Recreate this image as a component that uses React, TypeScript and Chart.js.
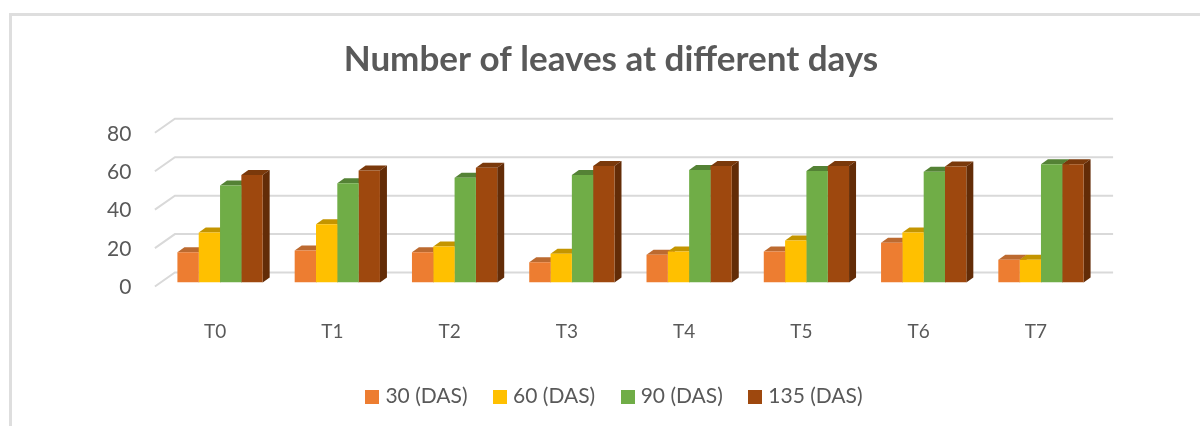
import React, { useEffect, useRef } from "react";
import { Chart, registerables } from "chart.js";

Chart.register(...registerables);

const categories = ["T0", "T1", "T2", "T3", "T4", "T5", "T6", "T7"];
const das30 = [15.8, 16.7, 15.8, 10.6, 14.5, 16.2, 20.7, 11.8];
const das60 = [26, 30.3, 18.8, 15, 16.2, 21.9, 26, 11.8];
const das90 = [50.5, 51.7, 54.5, 55.9, 58.5, 58, 57.6, 61.5];
const das135 = [56, 58.3, 59.7, 60.6, 60.6, 60.6, 60.4, 61.5];
const yTicks = [0, 20, 40, 60, 80];

const FONT = "Lato, 'Open Sans', sans-serif";
const DEPTH_X = 7;
const DEPTH_Y = 5;
const frontColors = ["#ED7D31", "#FFC000", "#70AD47", "#9E480E"];
const topColors = ["#BC6A30", "#C49500", "#548235", "#7A390B"];
const sideColors = ["#A85A24", "#A88000", "#466E2C", "#632C07"];

const poly = (ctx: CanvasRenderingContext2D, pts: number[][], fill: string) => {
  ctx.beginPath();
  pts.forEach(([x, y], i) => (i ? ctx.lineTo(x, y) : ctx.moveTo(x, y)));
  ctx.closePath();
  ctx.fillStyle = fill;
  ctx.fill();
};

const swatch = (color: string) => {
  const c = document.createElement("canvas");
  c.width = 14;
  c.height = 14;
  const g = c.getContext("2d") as CanvasRenderingContext2D;
  g.fillStyle = color;
  g.fillRect(0, 0, 14, 14);
  return c;
};

const framePlugin = {
  id: "frameAndWalls",
  afterLayout(chart: any) {
    chart.legend.left += 5.25;
    chart.legend.right += 5.25;
  },
  beforeDraw(chart: any) {
    const { ctx, scales } = chart;
    const y = scales.y;
    const area = chart.chartArea;
    ctx.save();
    ctx.strokeStyle = "#DEDEDE";
    ctx.lineWidth = 3;
    ctx.beginPath();
    ctx.moveTo(10.5, 426);
    ctx.lineTo(10.5, 14.5);
    ctx.lineTo(1200, 14.5);
    ctx.stroke();
    ctx.strokeStyle = "#D9D9D9";
    ctx.lineWidth = 2;
    yTicks.forEach((t) => {
      const p = y.getPixelForValue(t);
      ctx.beginPath();
      ctx.moveTo(area.left - 6.5, p + 4);
      ctx.lineTo(area.left + 13.5, p - 10);
      ctx.lineTo(area.right + 13.5, p - 10);
      ctx.stroke();
    });
    ctx.restore();
  },
  beforeDatasetsDraw(chart: any) {
    const { ctx } = chart;
    chart.data.datasets.forEach((_: any, di: number) => {
      chart.getDatasetMeta(di).data.forEach((bar: any) => {
        const half = bar.width / 2;
        const l = bar.x - half;
        const r = bar.x + half;
        const t = bar.y;
        const b = bar.base;
        poly(ctx, [[l, t], [l + DEPTH_X, t - DEPTH_Y], [r + DEPTH_X, t - DEPTH_Y], [r, t]], topColors[di]);
        poly(ctx, [[r, t], [r + DEPTH_X, t - DEPTH_Y], [r + DEPTH_X, b - DEPTH_Y], [r, b]], sideColors[di]);
      });
    });
  },
};

export default function App() {
  const ref = useRef<HTMLCanvasElement>(null);
  useEffect(() => {
    const chart = new Chart(ref.current as HTMLCanvasElement, {
      type: "bar",
      data: {
        labels: categories,
        datasets: [
          { label: "30 (DAS)", data: das30, backgroundColor: frontColors[0], pointStyle: swatch(frontColors[0]) },
          { label: "60 (DAS)", data: das60, backgroundColor: frontColors[1], pointStyle: swatch(frontColors[1]) },
          { label: "90 (DAS)", data: das90, backgroundColor: frontColors[2], pointStyle: swatch(frontColors[2]) },
          { label: "135 (DAS)", data: das135, backgroundColor: frontColors[3], pointStyle: swatch(frontColors[3]) },
        ],
      },
      options: {
        animation: false,
        responsive: false,
        layout: { padding: { left: 22, right: 0, top: 39, bottom: 9 } },
        datasets: { bar: { categoryPercentage: 0.727, barPercentage: 1, borderWidth: 0 } },
        plugins: {
          title: {
            display: true,
            text: "Number of leaves at different days",
            color: "#595959",
            font: { family: FONT, size: 35, weight: "bold" },
            padding: { top: 0, bottom: 47.8 },
          },
          legend: {
            position: "bottom",
            labels: {
              usePointStyle: true,
              pointStyleWidth: 5,
              boxHeight: 14,
              color: "#595959",
              font: { family: FONT, size: 21 },
              padding: 30,
            },
          },
          tooltip: { enabled: false },
        },
        scales: {
          x: {
            afterFit(s: any) {
              s.height = 73.5;
            },
            grid: { display: false },
            border: { display: false },
            ticks: { color: "#595959", font: { family: FONT, size: 19 }, padding: 30, labelOffset: -5 },
          },
          y: {
            min: 0,
            max: 80,
            afterFit(s: any) {
              s.width = 139.4;
            },
            afterBuildTicks(s: any) {
              s.ticks = yTicks.map((value) => ({ value }));
            },
            grid: { display: false },
            border: { display: false },
            ticks: { color: "#595959", font: { family: FONT, size: 21 }, padding: 22, labelOffset: 5 },
          },
          y2: {
            position: "right",
            min: 0,
            max: 80,
            afterFit(s: any) {
              s.width = 100.4;
            },
            grid: { display: false, drawTicks: false },
            border: { display: false },
            ticks: { display: false },
          },
        },
      } as any,
      plugins: [framePlugin],
    });
    return () => chart.destroy();
  }, []);
  return (
    <div style={{ position: "absolute", left: 0, top: 0, width: 1200, height: 426, overflow: "hidden", background: "#fff" }}>
      <canvas ref={ref} width={1200} height={426} style={{ display: "block" }} />
    </div>
  );
}
